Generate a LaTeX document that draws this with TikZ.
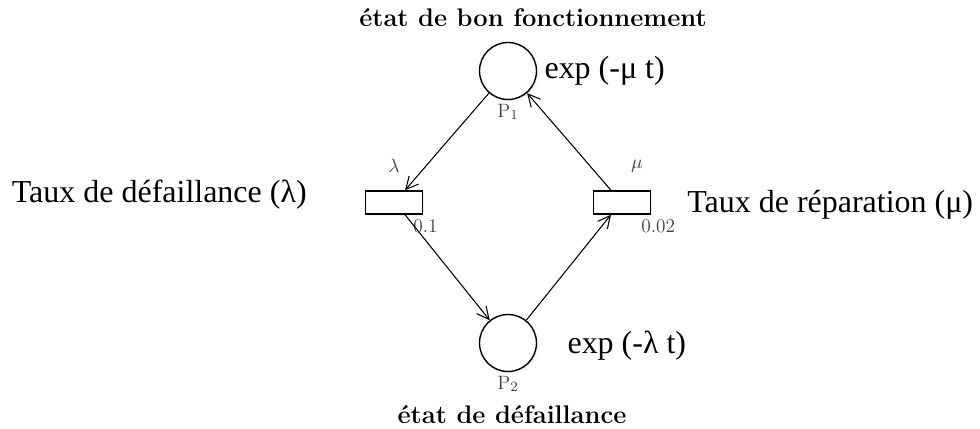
\documentclass[tikz,border=0pt]{standalone}
\usepackage{fontspec}
\newfontfamily\timesfont{Liberation Serif}
\usetikzlibrary{arrows.meta, positioning, shadows}

\tikzset{
  place/.style={circle, draw, line width=0.8pt, fill=white, minimum size=1.14cm, inner sep=0pt,
    drop shadow={opacity=0.12, shadow xshift=0.03cm, shadow yshift=-0.05cm}},
  transition/.style={rectangle, draw, line width=0.8pt, fill=white, minimum width=1.14cm,
    minimum height=0.46cm, inner sep=0pt,
    drop shadow={opacity=0.12, shadow xshift=0.03cm, shadow yshift=-0.05cm}},
  flow/.style={line width=0.6pt, -{Straight Barb[length=7pt, width=7pt, line width=0.6pt]}},
  petrilabel/.style={text=black!75, font=\fontsize{11}{13}\selectfont},
  bigtext/.style={inner sep=0pt, font=\timesfont\fontsize{18.2}{22}\selectfont},
  etat/.style={font=\bfseries\fontsize{14.5}{17}\selectfont}
}

\begin{document}
\begin{tikzpicture}
    \useasboundingbox (-10.16, -4.44) rectangle (9.44, 4.14);

    % Places
    \node[place, label={[petrilabel, label distance=-0.05cm]below:P$_1$}] (P1) at (0, 2.72) {};
    \node[place, label={[petrilabel, label distance=-0.05cm]below:P$_2$}] (P2) at (0, -2.72) {};

    % Transitions
    \node[transition] (T1) at (-2.28, 0.09) {};
    \node[transition] (T2) at (2.28, 0.09) {};

    % Rates
    \node[petrilabel, above=0.23cm of T1] (lam) {$\lambda$};
    \node[petrilabel, above=0.23cm of T2, xshift=0.3cm] (mu) {$\mu$};
    \node[petrilabel, below right=-0.03cm and -0.32cm of T1] (r1) {0.1};
    \node[petrilabel, below right=-0.03cm and -0.32cm of T2] (r2) {0.02};

    % Texts
    \node[etat] (top) at (0.5, 3.78) {état de bon fonctionnement};
    \node[etat] (bottom) at (0.08, -4.16) {état de défaillance};
    \node[bigtext, right=0.14cm of P1] (e1) {exp (-μ t)};
    \node[bigtext, right=0.6cm of P2, yshift=-0.06cm] (e2) {exp (-λ t)};
    \node[bigtext, anchor=east] (tl) at (-4.02, 0.24) {Taux de défaillance (λ)};
    \node[bigtext, anchor=west] (tr) at (3.58, 0.04) {Taux de réparation (μ)};

    % Arcs
    \draw[flow] (P1) -- ([xshift=0.22cm]T1.north);
    \draw[flow] ([xshift=0.22cm]T1.south) -- (P2);
    \draw[flow] (P2) -- ([xshift=-0.22cm]T2.south);
    \draw[flow] ([xshift=-0.22cm]T2.north) -- (P1);
\end{tikzpicture}
\end{document}
